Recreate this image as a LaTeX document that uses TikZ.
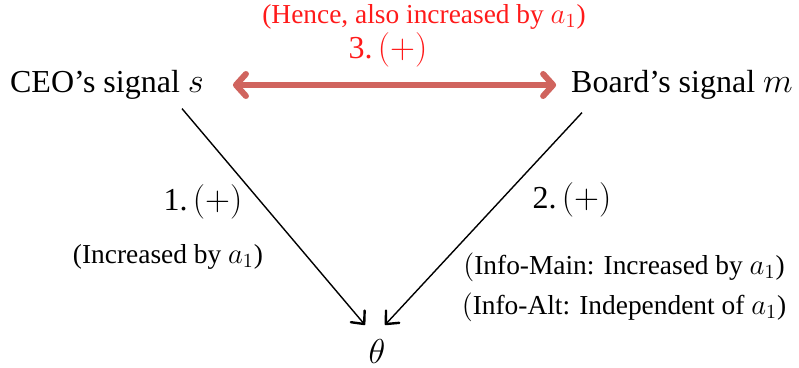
\documentclass[tikz,border=0pt]{standalone}
\usepackage{fontspec}
\setmainfont{Liberation Serif}
\usetikzlibrary{arrows.meta, positioning}
\definecolor{sigred}{HTML}{D0645E}
\definecolor{labred}{HTML}{FF1A1A}

\begin{document}
\begin{tikzpicture}[
  x=0.5pt, y=-0.5pt,
  every node/.style={font=\fontsize{16}{19}\selectfont},
  small/.style={font=\fontsize{13.7}{16}\selectfont},
  link/.style={line width=0.7pt, -{Straight Barb[length=5pt, width=9pt, line width=1.2pt, round]}},
  corr/.style={sigred, line width=3pt, {Straight Barb[length=5pt, width=11pt, round]}-{Straight Barb[length=5pt, width=11pt, round]}},
]
\useasboundingbox (0,0) rectangle (799,368);

% signals and state
\node (ceo) at (107,85) {CEO’s signal $s$};
\node (board) at (682,85) {Board’s signal $m$};
\node[font=\fontsize{18}{20}\selectfont] (theta) at (377,352) {$\theta$};

% correlation between signals
\node[text=labred] (three) at (388,50) {3.\,$(+)$};
\node[small, text=labred] (hence) at (424,17) {(Hence, also increased by $a_1$)};
\draw[corr] ([xshift=11pt]ceo.east) -- ([xshift=-4pt]board.west);

% effects on theta
\draw[link] ([xshift=37.5pt,yshift=-1pt]ceo.south) -- ([xshift=-6pt,yshift=4pt]theta.north);
\draw[link] ([xshift=-50pt,yshift=-3pt]board.south) -- ([xshift=4pt,yshift=4pt]theta.north);

\node (one) at (203,202) {1.\,$(+)$};
\node[small] (incr) at (168,257) {(Increased by $a_1$)};
\node (two) at (572,200) {2.\,$(+)$};
\node[small] (main) at (624,267) {$\big($Info-Main: Increased by $a_1$)};
\node[small] (alt) at (624,307) {$\big($Info-Alt: Independent of $a_1$)};

\end{tikzpicture}
\end{document}
